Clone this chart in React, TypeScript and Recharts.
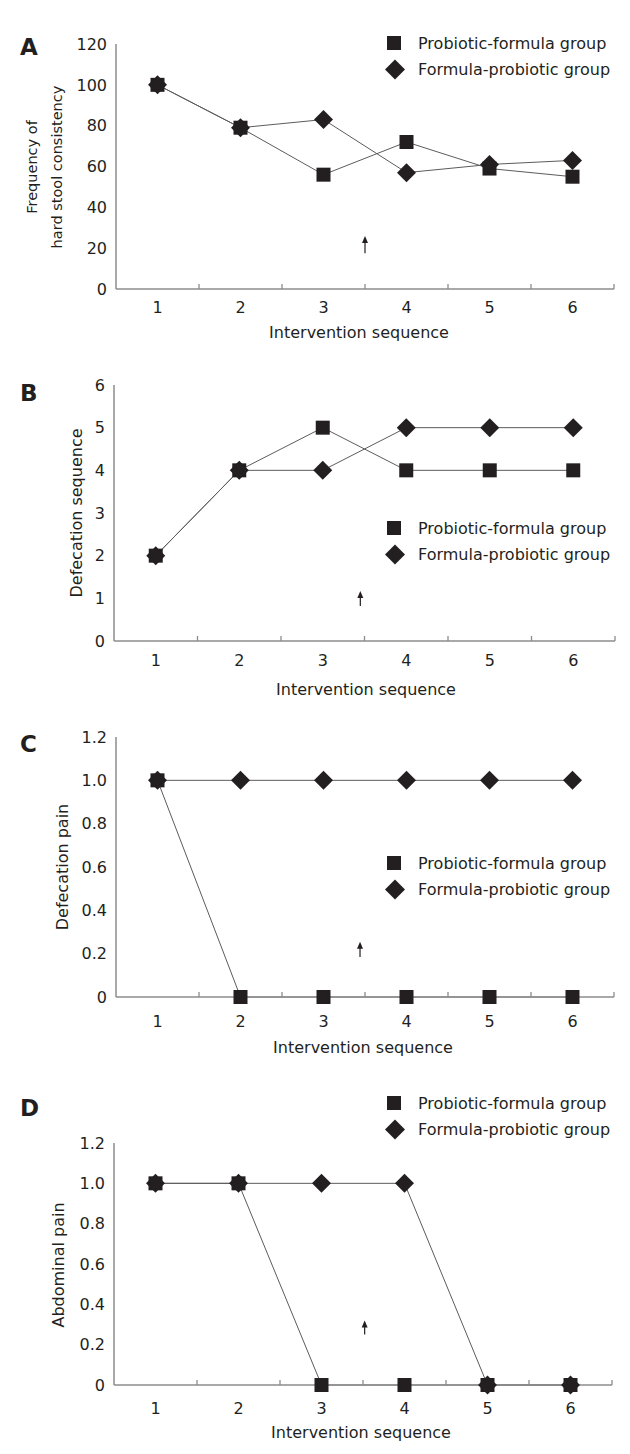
import React from 'react';
import { LineChart, Line, XAxis, YAxis, Legend, ReferenceLine } from 'recharts';

const FONT = "'DejaVu Sans', Verdana, sans-serif";
const INK = '#231f20';
const AXIS = '#8c8c8c';
const LINE = '#5c5c5c';

// ---------- data ----------
const sequence = [1, 2, 3, 4, 5, 6];
const tickBoundaries = [1.5, 2.5, 3.5, 4.5, 5.5, 6.5];
const seriesNames = ['Probiotic-formula group', 'Formula-probiotic group'];

const hardStoolProbiotic = [100, 79, 56, 72, 59, 55];
const hardStoolFormula = [100, 79, 83, 57, 61, 63];
const hardStoolTicks = [0, 20, 40, 60, 80, 100, 120];
const hardStoolArrow = [17.5, 26];

const defSeqProbiotic = [2, 4, 5, 4, 4, 4];
const defSeqFormula = [2, 4, 4, 5, 5, 5];
const defSeqTicks = [0, 1, 2, 3, 4, 5, 6];
const defSeqArrow = [0.82, 1.17];

const defPainProbiotic = [1, 0, 0, 0, 0, 0];
const defPainFormula = [1, 1, 1, 1, 1, 1];
const painTicks = [0, 0.2, 0.4, 0.6, 0.8, 1.0, 1.2];
const defPainArrow = [0.185, 0.255];

const abdPainProbiotic = [1, 1, 0, 0, 0, 0];
const abdPainFormula = [1, 1, 1, 1, 0, 0];
const abdPainArrow = [0.25, 0.32];

const arrowX = [3.5, 3.45, 3.44, 3.52];

const panelLetters = ['A', 'B', 'C', 'D'];
const yTitles = [
  ['Frequency of', 'hard stool consistency'],
  ['Defecation sequence'],
  ['Defecation pain'],
  ['Abdominal pain'],
];
const xTitle = 'Intervention sequence';

// ---------- layout ----------
const panels = [
  {
    pf: hardStoolProbiotic, fp: hardStoolFormula, ticks: hardStoolTicks, arrow: hardStoolArrow, ax: arrowX[0],
    letter: panelLetters[0], yTitle: yTitles[0], fmt: (v: number) => String(v), yTitleFs: 14.5,
    top: 0, plotTop: 44, plotBottom: 289, plotLeft: 116, plotRight: 614,
    letterBase: 55, yTitleX: [32, 57], yTitleY: 167, legendTop: 30,
    xTitleX: 359, xTitleY: 332, tickOff: 18,
  },
  {
    pf: defSeqProbiotic, fp: defSeqFormula, ticks: defSeqTicks, arrow: defSeqArrow, ax: arrowX[1],
    letter: panelLetters[1], yTitle: yTitles[1], fmt: (v: number) => String(v), yTitleFs: 16,
    top: 350, plotTop: 385, plotBottom: 641, plotLeft: 114, plotRight: 615,
    letterBase: 401, yTitleX: [76], yTitleY: 513, legendTop: 515,
    xTitleX: 366, xTitleY: 689, tickOff: 19,
  },
  {
    pf: defPainProbiotic, fp: defPainFormula, ticks: painTicks, arrow: defPainArrow, ax: arrowX[2],
    letter: panelLetters[2], yTitle: yTitles[2], fmt: (v: number) => (v === 0 ? '0' : v.toFixed(1)), yTitleFs: 16,
    top: 710, plotTop: 737, plotBottom: 997, plotLeft: 116, plotRight: 614,
    letterBase: 752, yTitleX: [62], yTitleY: 867, legendTop: 850,
    xTitleX: 363, xTitleY: 1047, tickOff: 24,
  },
  {
    pf: abdPainProbiotic, fp: abdPainFormula, ticks: painTicks, arrow: abdPainArrow, ax: arrowX[3],
    letter: panelLetters[3], yTitle: yTitles[3], fmt: (v: number) => (v === 0 ? '0' : v.toFixed(1)), yTitleFs: 16,
    top: 1070, plotTop: 1143, plotBottom: 1385, plotLeft: 114, plotRight: 612,
    letterBase: 1116, yTitleX: [58], yTitleY: 1265, legendTop: 1090,
    xTitleX: 361, xTitleY: 1432, tickOff: 23,
  },
];

const X_AXIS_H = 60;
const Y_AXIS_W = 70;
const FS = 16;

// ---------- shapes ----------
const squarePts = (cx: number, cy: number, s = 7) => ({ x: cx - s, y: cy - s, width: 2 * s, height: 2 * s });
const diamondPts = (cx: number, cy: number, s = 9.5) =>
  `${cx},${cy - s} ${cx + s},${cy} ${cx},${cy + s} ${cx - s},${cy}`;

const SquareDot = (p: any) => {
  if (p.cx == null || p.cy == null) return <g key={p.key} />;
  return <rect key={p.key} {...squarePts(p.cx, p.cy)} fill={INK} />;
};
const DiamondDot = (p: any) => {
  if (p.cx == null || p.cy == null) return <g key={p.key} />;
  return <polygon key={p.key} points={diamondPts(p.cx, p.cy)} fill={INK} />;
};

const Arrow = (p: any) => {
  const x = (p.x1 + p.x2) / 2;
  const top = Math.min(p.y1, p.y2);
  const bottom = Math.max(p.y1, p.y2);
  return (
    <g>
      <line x1={x} x2={x} y1={bottom} y2={top + 5} stroke={INK} strokeWidth={1.2} />
      <polygon points={`${x},${top} ${x - 3},${top + 7} ${x + 3},${top + 7}`} fill={INK} />
    </g>
  );
};

const LegendBox = ({ payload }: any) => {
  const items = seriesNames.map((n, i) => {
    const found = (payload || []).find((e: any) => e.value === n);
    return { value: n, type: found ? found.type : i === 0 ? 'square' : 'diamond' };
  });
  return (
    <svg width={240} height={56} style={{ display: 'block', overflow: 'visible' }}>
      {items.map((it: any, i: number) => {
        const cy = 13 + i * 26.5;
        return (
          <g key={i}>
            {it.type === 'square' ? (
              <rect {...squarePts(10, cy, 7)} fill={INK} />
            ) : (
              <polygon points={diamondPts(11, cy, 10)} fill={INK} />
            )}
            <text x={34} y={cy} dominantBaseline="central" fontFamily={FONT} fontSize={FS} fill={INK}>
              {it.value}
            </text>
          </g>
        );
      })}
    </svg>
  );
};

function Panel({ cfg }: any) {
  const data = sequence.map((s, i) => ({ seq: s, pf: cfg.pf[i], fp: cfg.fp[i] }));
  const H = cfg.plotBottom - cfg.top + X_AXIS_H;
  const margin = {
    top: cfg.plotTop - cfg.top,
    left: cfg.plotLeft - Y_AXIS_W,
    right: 630 - cfg.plotRight,
    bottom: 0,
  };
  const xTicks = [...sequence, ...tickBoundaries].sort((a, b) => a - b);
  const maxY = cfg.ticks[cfg.ticks.length - 1];

  const XTick = (p: any) => {
    const v = p.payload.value;
    if (Number.isInteger(v)) {
      return (
        <text x={p.x} y={p.y + cfg.tickOff} textAnchor="middle" dominantBaseline="central" fontFamily={FONT} fontSize={FS} fill={INK}>
          {v}
        </text>
      );
    }
    return <line x1={p.x} x2={p.x} y1={p.y} y2={p.y - 5} stroke={AXIS} strokeWidth={1.3} />;
  };

  const YTitle = () => (
    <g>
      <text x={20} y={cfg.letterBase - cfg.top} fontFamily={FONT} fontSize={23} fontWeight="bold" fill={INK}>
        {cfg.letter}
      </text>
      {cfg.yTitle.map((t: string, i: number) => {
        const x = cfg.yTitleX[i];
        const y = cfg.yTitleY - cfg.top;
        return (
          <text key={i} x={x} y={y} textAnchor="middle" dominantBaseline="central" transform={`rotate(-90, ${x}, ${y})`} fontFamily={FONT} fontSize={cfg.yTitleFs} fill={INK}>
            {t}
          </text>
        );
      })}
    </g>
  );

  const XTitle = () => (
    <text x={cfg.xTitleX} y={cfg.xTitleY - cfg.top} textAnchor="middle" dominantBaseline="central" fontFamily={FONT} fontSize={FS} fill={INK}>
      {xTitle}
    </text>
  );

  return (
    <div style={{ position: 'absolute', left: 0, top: cfg.top, width: 630, height: H }}>
      <LineChart width={630} height={H} data={data} margin={margin}>
        <XAxis
          dataKey="seq"
          type="number"
          domain={[0.5, 6.5]}
          ticks={xTicks}
          interval={0}
          tickLine={false}
          tickSize={0}
          tickMargin={0}
          height={X_AXIS_H}
          axisLine={{ stroke: AXIS, strokeWidth: 1.5 }}
          tick={(p: any) => <XTick {...p} />}
          label={{ content: () => <XTitle /> }}
        />
        <YAxis
          type="number"
          domain={[0, maxY]}
          ticks={cfg.ticks}
          interval={0}
          width={Y_AXIS_W}
          tickLine={false}
          tickSize={0}
          tickMargin={9}
          axisLine={{ stroke: AXIS, strokeWidth: 1.5 }}
          tick={{ fill: INK, fontSize: FS, fontFamily: FONT }}
          tickFormatter={cfg.fmt}
          label={{ content: () => <YTitle /> }}
        />
        <Legend
          layout="vertical"
          align="center"
          verticalAlign="middle"
          wrapperStyle={{ left: 384, top: cfg.legendTop - cfg.top, width: 240 }}
          content={(p: any) => <LegendBox {...p} />}
        />
        <ReferenceLine
          segment={[{ x: cfg.ax, y: cfg.arrow[0] }, { x: cfg.ax, y: cfg.arrow[1] }]}
          shape={(p: any) => <Arrow {...p} />}
        />
        <Line
          type="linear"
          dataKey="pf"
          name={seriesNames[0]}
          legendType="square"
          stroke={LINE}
          strokeWidth={1}
          dot={(p: any) => <SquareDot {...p} />}
          activeDot={false}
          isAnimationActive={false}
        />
        <Line
          type="linear"
          dataKey="fp"
          name={seriesNames[1]}
          legendType="diamond"
          stroke={LINE}
          strokeWidth={1}
          dot={(p: any) => <DiamondDot {...p} />}
          activeDot={false}
          isAnimationActive={false}
        />
      </LineChart>
    </div>
  );
}

export default function App() {
  return (
    <div style={{ position: 'absolute', left: 0, top: 0, width: 630, height: 1454, background: '#fff', overflow: 'hidden' }}>
      {panels.map((cfg, i) => (
        <Panel key={i} cfg={cfg} />
      ))}
    </div>
  );
}
